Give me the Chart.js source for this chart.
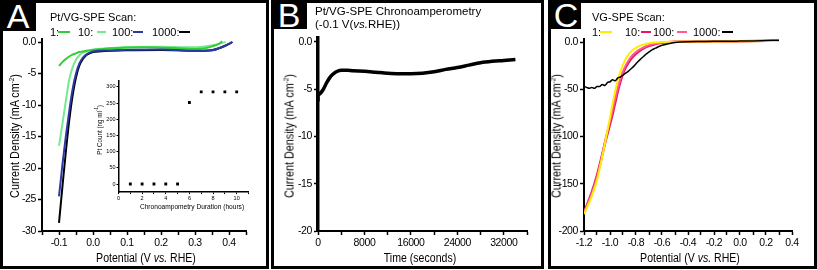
<!DOCTYPE html>
<html><head><meta charset="utf-8">
<script src="https://cdn.jsdelivr.net/npm/chart.js@4.4.1/dist/chart.umd.min.js"></script>
<style>
html,body{margin:0;padding:0;background:#fff;}
#root{position:relative;width:817px;height:270px;overflow:hidden;background:#fff;font-family:'Liberation Sans',Arial,sans-serif;color:#000;}
.box{position:absolute;border:3px solid #000;box-sizing:border-box;}
.lt{position:absolute;background:#000;color:#fff;font-size:34px;line-height:1;display:flex;align-items:center;justify-content:center;}
.t{position:absolute;white-space:nowrap;line-height:1;}
.l{transform:translateY(-50%);}
.c{transform:translate(-50%,-50%) scaleX(0.88);}
.r{transform:translate(-50%,-50%) rotate(-90deg) scaleX(0.9);}
.cv{position:absolute;}
.lg{position:absolute;height:2px;}
</style></head>
<body><div id="root">
<div class="box" style="left:0;top:0;width:269px;height:269px"></div>
<div class="box" style="left:271px;top:0;width:273px;height:269px"></div>
<div class="box" style="left:548px;top:0;width:269px;height:269px"></div>
<div class="lt" style="left:0;top:0;width:36px;height:31px">A</div>
<div class="lt" style="left:271px;top:0;width:36px;height:29px">B</div>
<div class="lt" style="left:551px;top:0;width:30px;height:29px">C</div>

<canvas id="chA" class="cv" width="270" height="270" style="left:0;top:0"></canvas>
<canvas id="chIn" class="cv" width="170" height="150" style="left:85px;top:70px"></canvas>
<canvas id="chB" class="cv" width="275" height="270" style="left:270px;top:0"></canvas>
<canvas id="chC" class="cv" width="272" height="270" style="left:545px;top:0"></canvas>

<div class="t l" style="left:50px;top:17px;font-size:11px">Pt/VG-SPE Scan:</div>
<div class="t l" style="left:50px;top:32px;font-size:11px">1:</div>
<div class="lg" style="left:58px;top:31px;width:12px;background:#2fcf2f"></div>
<div class="t l" style="left:78px;top:32px;font-size:11px">10:</div>
<div class="lg" style="left:97px;top:31px;width:9px;background:#74ea8f"></div>
<div class="t l" style="left:112px;top:32px;font-size:11px">100:</div>
<div class="lg" style="left:133px;top:31px;width:10px;background:#2a38a8"></div>
<div class="t l" style="left:152px;top:32px;font-size:11px">1000:</div>
<div class="lg" style="left:179px;top:31px;width:11px;background:#000"></div>

<div class="t l" style="left:315px;top:12px;font-size:11.5px">Pt/VG-SPE Chronoamperometry</div>
<div class="t l" style="left:315px;top:25px;font-size:11.5px">(-0.1 V(<i>vs.</i>RHE))</div>

<div class="t l" style="left:592px;top:17px;font-size:11px">VG-SPE Scan:</div>
<div class="t l" style="left:592px;top:32px;font-size:11px">1:</div>
<div class="lg" style="left:600px;top:31px;width:12px;background:#ffee00"></div>
<div class="t l" style="left:625px;top:32px;font-size:11px">10:</div>
<div class="lg" style="left:641px;top:31px;width:10px;background:#e8175f"></div>
<div class="t l" style="left:653px;top:32px;font-size:11px">100:</div>
<div class="lg" style="left:677px;top:31px;width:10px;background:#ff5a92"></div>
<div class="t l" style="left:693px;top:32px;font-size:11px">1000:</div>
<div class="lg" style="left:722px;top:31px;width:11px;background:#000"></div>

<div class="t c" style="left:146px;top:258px;font-size:12px">Potential (V <i>vs.</i> RHE)</div>
<div class="t r" style="left:14px;top:136px;font-size:12px">Current Density (mA cm<sup style="font-size:7px">-2</sup>)</div>
<div class="t c" style="left:420px;top:258px;font-size:12px">Time (seconds)</div>
<div class="t r" style="left:289px;top:136px;font-size:12px">Current Density (mA cm<sup style="font-size:7px">-2</sup>)</div>
<div class="t c" style="left:690px;top:258px;font-size:12px">Potential (V <i>vs.</i> RHE)</div>
<div class="t r" style="left:556px;top:136px;font-size:12px">Current Density (mA cm<sup style="font-size:7px">-2</sup>)</div>
<div class="t c" style="left:192px;top:207px;font-size:7.5px">Chronoampometry Duration (hours)</div>
<div class="t r" style="left:99px;top:130px;font-size:7px">Pt Count (ng ml<sup style="font-size:4.5px">-1</sup>)</div>
</div>
<script>
const FONT = "'Liberation Sans', Arial, sans-serif";

// ---------- Panel A: Pt/VG-SPE LSV scans ----------
const aScan1Pot = [-0.1,-0.09,-0.08,-0.07,-0.06,-0.05,-0.04,-0.03,-0.02,0,0.02,0.05,0.1,0.15,0.2,0.25,0.3,0.33,0.35,0.37,0.38];
const aScan1Cur = [-3.8,-3.2,-2.7,-2.3,-2.0,-1.8,-1.6,-1.5,-1.4,-1.25,-1.15,-1.0,-0.9,-0.85,-0.9,-1.0,-1.1,-1.0,-0.7,-0.3,0.1];
const aScan10Pot = [-0.1,-0.095,-0.09,-0.085,-0.08,-0.075,-0.07,-0.06,-0.05,-0.04,-0.03,-0.02,0,0.05,0.1,0.2,0.28,0.33,0.37,0.39];
const aScan10Cur = [-16.5,-14.8,-13.0,-11.2,-9.4,-7.6,-6.0,-4.0,-2.8,-2.1,-1.7,-1.5,-1.2,-1.0,-0.8,-0.75,-0.85,-0.7,-0.3,0.0];
const aScan100Pot = [-0.1,-0.09,-0.08,-0.07,-0.06,-0.05,-0.04,-0.03,-0.02,-0.01,0,0.05,0.1,0.2,0.3,0.35,0.38,0.4,0.41];
const aScan100Cur = [-24.5,-19.5,-15.0,-11.0,-7.5,-5.0,-3.4,-2.5,-2.0,-1.7,-1.5,-1.35,-1.25,-1.2,-1.4,-1.3,-0.8,-0.3,0.0];
const aScan1000Pot = [-0.1,-0.09,-0.08,-0.07,-0.06,-0.05,-0.04,-0.03,-0.02,-0.01,0,0.05,0.1,0.2,0.3,0.35,0.38,0.4,0.41];
const aScan1000Cur = [-28.7,-23.0,-17.5,-12.5,-8.5,-5.6,-3.7,-2.7,-2.1,-1.8,-1.6,-1.4,-1.3,-1.25,-1.4,-1.3,-0.8,-0.3,0.0];
const aXTickValues = [-0.1,0,0.1,0.2,0.3,0.4];
const aXTickLabels = ['-0.1','0.0','0.1','0.2','0.3','0.4'];
const aXMinor = [-0.15,-0.05,0.05,0.15,0.25,0.35,0.45];
const aYTickValues = [0,-5,-10,-15,-20,-25,-30];
const aYTickLabels = ['0.0','-5','-10','-15','-20','-25','-30'];

// ---------- Inset: Pt count vs chronoamperometry duration ----------
const inHours = [1,2,3,4,5,6,7,8,9,10];
const inPtCount = [0,0,0,0,0,252,285,285,285,285];
const inXTickValues = [0,2,4,6,8,10];
const inXTickLabels = ['0','2','4','6','8','10'];
const inXMinor = [1,3,5,7,9,11];
const inYTickValues = [0,50,100,150,200,250,300];
const inYTickLabels = ['0','50','100','150','200','250','300'];

// ---------- Panel B: chronoamperometry ----------
const bTime = [0,0,300,700,1000,1500,2000,2500,3000,3500,4000,5000,6000,8000,10000,12000,14000,16000,18000,20000,22000,24000,26000,28000,30000,32000,34000];
const bCur  = [-6.3,-5.6,-5.5,-5.2,-4.9,-4.3,-3.8,-3.45,-3.2,-3.05,-3.0,-3.0,-3.05,-3.1,-3.2,-3.3,-3.35,-3.35,-3.3,-3.15,-2.9,-2.7,-2.45,-2.2,-2.05,-1.95,-1.85];
const bXTickValues = [0,8000,16000,24000,32000];
const bXTickLabels = ['0','8000','16000','24000','32000'];
const bXMinor = [4000,12000,20000,28000,36000];
const bYTickValues = [0,-5,-10,-15,-20];
const bYTickLabels = ['0.0','-5','-10','-15','-20'];

// ---------- Panel C: VG-SPE LSV scans ----------
const cScan1Pot = [-1.2,-1.17,-1.14,-1.1,-1.07,-1.04,-1.0,-0.98,-0.96,-0.94,-0.92,-0.9,-0.88,-0.85,-0.82,-0.78,-0.74,-0.7,-0.65,-0.6,-0.5,-0.3,0,0.3];
const cScan1Cur = [-182,-173,-163,-146,-128,-108,-80,-65,-52,-40,-31,-24,-18,-12,-8,-4.5,-2.5,-1.3,-0.5,0,0.3,0.5,0.8,1.2];
const cScan10Pot = [-1.2,-1.17,-1.14,-1.1,-1.07,-1.04,-1.0,-0.98,-0.96,-0.94,-0.92,-0.9,-0.88,-0.85,-0.82,-0.78,-0.74,-0.7,-0.65,-0.6,-0.55,-0.5,-0.3,0,0.3];
const cScan10Cur = [-180,-170,-159,-141,-125,-108,-87,-76,-64,-52,-42,-33,-27,-20,-15,-10,-6.5,-4,-2,-0.8,-0.1,0.2,0.5,0.9,1.5];
const cScan100Pot = [-1.2,-1.17,-1.14,-1.1,-1.07,-1.04,-1.0,-0.98,-0.96,-0.94,-0.92,-0.9,-0.88,-0.85,-0.82,-0.78,-0.74,-0.7,-0.65,-0.6,-0.55,-0.5,-0.3,0,0.3];
const cScan100Cur = [-181,-171,-160,-143,-126,-106,-84,-72,-60,-49,-39,-31,-25,-18,-13,-8.5,-5.5,-3.2,-1.5,-0.5,0,0.2,0.5,0.9,1.4];
const cScan1000Pot = [-1.2,-1.18,-1.16,-1.14,-1.12,-1.1,-1.08,-1.06,-1.04,-1.02,-1.0,-0.98,-0.96,-0.94,-0.92,-0.9,-0.88,-0.86,-0.84,-0.82,-0.8,-0.78,-0.76,-0.74,-0.72,-0.7,-0.68,-0.65,-0.62,-0.58,-0.54,-0.5,-0.45,-0.4,-0.3,-0.2,-0.1,0,0.1,0.2,0.3];
const cScan1000Cur = [-47,-48,-49,-48,-49,-47,-47,-45,-46,-43,-42,-40,-41,-38,-37,-35,-33,-31,-28.5,-26,-23,-20,-17.5,-15,-12.5,-10.5,-8.5,-6.5,-4.5,-2.8,-1.5,-0.5,0,0.3,0.5,0.7,0.8,1,1.2,1.6,2];
const cXTickValues = [-1.2,-1.0,-0.8,-0.6,-0.4,-0.2,0,0.2,0.4];
const cXTickLabels = ['-1.2','-1.0','-0.8','-0.6','-0.4','-0.2','0.0','0.2','0.4'];
const cXMinor = [-1.1,-0.9,-0.7,-0.5,-0.3,-0.1,0.1,0.3];
const cYTickValues = [0,-50,-100,-150,-200];
const cYTickLabels = ['0.0','-50','-100','-150','-200'];

function pts(xs, ys){ return xs.map((x,i)=>({x:x, y:ys[i]})); }

function axis(o){
  return {
    type:'linear', min:o.min, max:o.max, position:o.pos,
    border:{display:true, color:'#000', width:o.bw||2},
    grid:{display:true, drawOnChartArea:false, drawTicks:true, tickLength:o.tl||4, tickWidth:o.tw||1.5, tickColor:'#000'},
    ticks:{color:'#000', font:{family:FONT, size:o.fs||10.5}, padding:o.pad===undefined?2:o.pad, maxRotation:0, autoSkip:false,
      callback:(v)=>{ const i=o.vals.findIndex(t=>Math.abs(t-v)<1e-9); return i>=0?o.labels[i]:''; }},
    afterBuildTicks:(s)=>{ s.ticks=o.vals.concat(o.minor||[]).sort((a,b)=>a-b).map(v=>({value:v})); },
    afterFit:(s)=>{ if(o.pos==='left') s.width=o.size; else s.height=o.size; }
  };
}
function line(data,color,w,order){
  return {data:data, showLine:true, borderColor:color, backgroundColor:color, borderWidth:w, pointRadius:0, fill:false, cubicInterpolationMode:'monotone', order:order};
}
// slightly condensed tick text, like the reference figure
const condense = {id:'condense', beforeDraw(chart){ try{ chart.ctx.letterSpacing = '-0.4px'; }catch(e){} }};
const base = {responsive:false, animation:false, devicePixelRatio:1, events:[], plugins:{legend:{display:false}, tooltip:{enabled:false}}};

new Chart(document.getElementById('chA'), {
  type:'scatter',
  data:{datasets:[
    line(pts(aScan100Pot,aScan100Cur),'#2a38a8',2,0),
    line(pts(aScan1Pot,aScan1Cur),'#2fcf2f',2,1),
    line(pts(aScan10Pot,aScan10Cur),'#74ea8f',2,2),
    line(pts(aScan1000Pot,aScan1000Cur),'#000000',2,3)
  ]},
  plugins:[condense],
  options:Object.assign({}, base, {
    layout:{padding:{left:0,right:24,top:38.85,bottom:9}},
    scales:{
      x:axis({min:-0.15,max:0.45,pos:'bottom',vals:aXTickValues,labels:aXTickLabels,minor:aXMinor,size:30,pad:2}),
      y:axis({min:-30,max:0.5,pos:'left',vals:aYTickValues,labels:aYTickLabels,size:42,pad:2})
    }
  })
});

new Chart(document.getElementById('chIn'), {
  type:'scatter',
  data:{datasets:[{data:pts(inHours,inPtCount), pointStyle:'rect', pointRadius:2, backgroundColor:'#000', borderColor:'#000', borderWidth:0}]},
  options:Object.assign({}, base, {
    layout:{padding:{left:0,right:6.5,top:10.5,bottom:12}},
    scales:{
      x:axis({min:0,max:11,pos:'bottom',vals:inXTickValues,labels:inXTickLabels,minor:inXMinor,size:15.9,fs:5.5,tl:2,tw:1,bw:1.5,pad:1}),
      y:axis({min:-25,max:320,pos:'left',vals:inYTickValues,labels:inYTickLabels,size:33.5,fs:5.5,tl:2,tw:1,bw:1.5,pad:1})
    }
  })
});

new Chart(document.getElementById('chB'), {
  type:'scatter',
  data:{datasets:[line(pts(bTime,bCur),'#000',3.5,0)]},
  plugins:[condense],
  options:Object.assign({}, base, {
    layout:{padding:{left:0,right:18,top:38.2,bottom:9}},
    scales:{
      x:axis({min:0,max:36000,pos:'bottom',vals:bXTickValues,labels:bXTickLabels,minor:bXMinor,size:30,pad:2}),
      y:axis({min:-20,max:0.4,pos:'left',vals:bYTickValues,labels:bYTickLabels,size:48,pad:2,bw:3.5})
    }
  })
});

new Chart(document.getElementById('chC'), {
  type:'scatter',
  data:{datasets:[
    line(pts(cScan1000Pot,cScan1000Cur),'#000',1.5,0),
    line(pts(cScan1Pot,cScan1Cur),'#ffee00',2,1),
    line(pts(cScan100Pot,cScan100Cur),'#ff5a92',2,2),
    line(pts(cScan10Pot,cScan10Cur),'#e8175f',2.5,3)
  ]},
  plugins:[condense],
  options:Object.assign({}, base, {
    layout:{padding:{left:0,right:25,top:39.2,bottom:9}},
    scales:{
      x:axis({min:-1.2,max:0.4,pos:'bottom',vals:cXTickValues,labels:cXTickLabels,minor:cXMinor,size:30,pad:2}),
      y:axis({min:-200,max:3,pos:'left',vals:cYTickValues,labels:cYTickLabels,size:39,pad:2})
    }
  })
});
</script>
</body></html>
